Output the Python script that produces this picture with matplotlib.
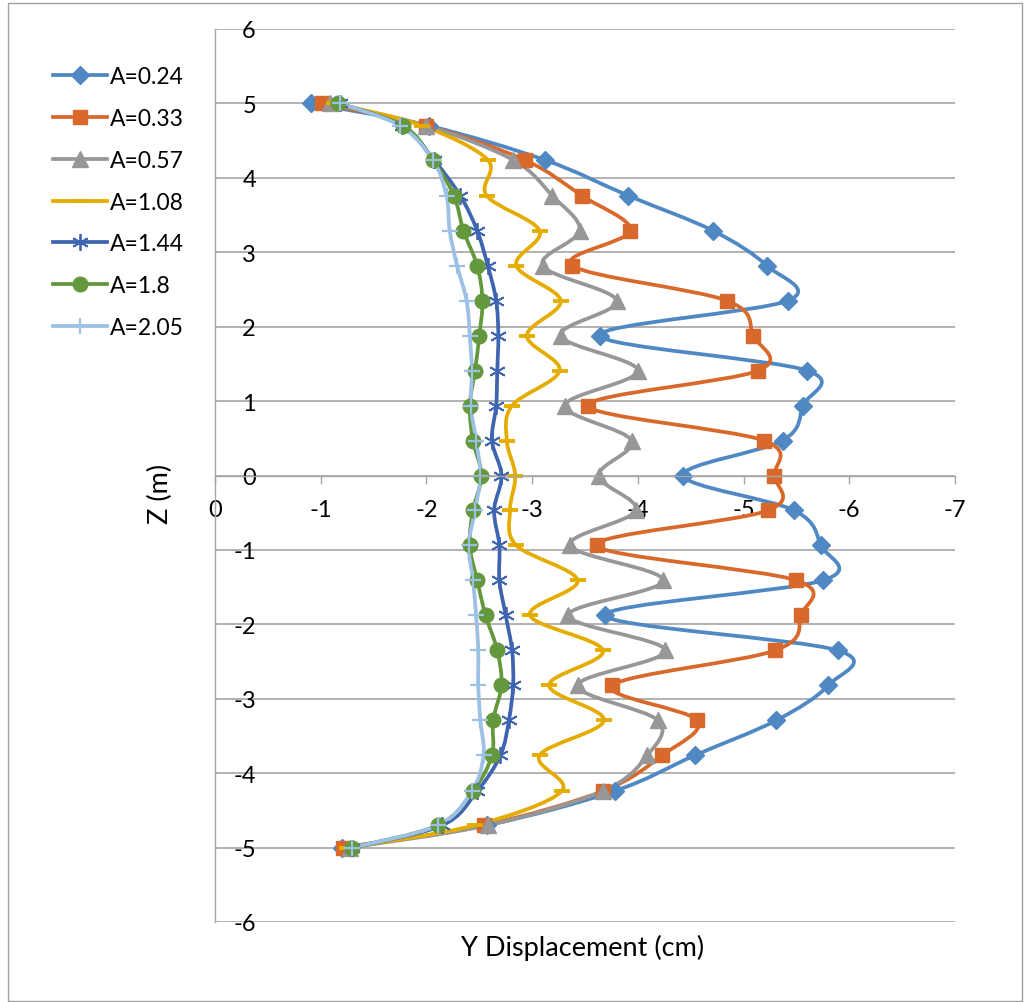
import numpy as np
import matplotlib
matplotlib.use("Agg")
import matplotlib.pyplot as plt
from matplotlib.path import Path
from matplotlib.patches import PathPatch, Rectangle
from matplotlib.lines import Line2D

plt.rcParams['font.family'] = ['Lato', 'DejaVu Sans']

z = [5, 4.7, 4.24, 3.76, 3.29, 2.82, 2.35, 1.88, 1.41, 0.94, 0.47, 0,
     -0.47, -0.94, -1.41, -1.88, -2.35, -2.82, -3.29, -3.76, -4.24, -4.7, -5]

a024 = [-0.91, -2.02, -3.12, -3.91, -4.71, -5.22, -5.42, -3.64, -5.60, -5.56, -5.37, -4.43,
        -5.48, -5.73, -5.75, -3.69, -5.89, -5.80, -5.31, -4.54, -3.78, -2.57, -1.20]
a033 = [-1.01, -2.00, -2.93, -3.47, -3.93, -3.38, -4.84, -5.09, -5.14, -3.53, -5.19, -5.29,
        -5.23, -3.61, -5.50, -5.54, -5.30, -3.76, -4.56, -4.23, -3.67, -2.54, -1.21]
a057 = [-1.09, -2.00, -2.82, -3.19, -3.45, -3.10, -3.80, -3.27, -4.00, -3.31, -3.94, -3.63,
        -3.98, -3.36, -4.24, -3.34, -4.26, -3.43, -4.19, -4.09, -3.67, -2.58, -1.28]
a108 = [-1.13, -1.96, -2.58, -2.57, -3.07, -2.85, -3.27, -2.95, -3.26, -2.81, -2.76, -2.84,
        -2.79, -2.85, -3.43, -2.98, -3.67, -3.16, -3.68, -3.07, -3.28, -2.46, -1.25]
a144 = [-1.18, -1.77, -2.07, -2.32, -2.48, -2.58, -2.66, -2.68, -2.67, -2.66, -2.62, -2.71,
        -2.64, -2.69, -2.69, -2.75, -2.81, -2.82, -2.78, -2.70, -2.48, -2.15, -1.30]
a180 = [-1.16, -1.78, -2.06, -2.26, -2.35, -2.48, -2.53, -2.50, -2.46, -2.41, -2.44, -2.52,
        -2.44, -2.41, -2.48, -2.56, -2.67, -2.71, -2.63, -2.62, -2.44, -2.11, -1.30]
a205 = [-1.18, -1.75, -2.06, -2.19, -2.22, -2.29, -2.38, -2.41, -2.43, -2.42, -2.47, -2.51,
        -2.46, -2.40, -2.44, -2.47, -2.49, -2.49, -2.51, -2.54, -2.43, -2.11, -1.30]

labels = ['A=0.24', 'A=0.33', 'A=0.57', 'A=1.08', 'A=1.44', 'A=1.8', 'A=2.05']
series = [a024, a033, a057, a108, a144, a180, a205]
colors = ['#4F88C2', '#D9692A', '#979797', '#E5AC00', '#3F65B0', '#64983C', '#9DC0E5']
markers = ['D', 's', '^', '_', (6, 2, 0), 'o', '+']
msizes = [9.5, 10.5, 11, 12, 12, 10.5, 11]
mews = [1, 1, 1, 2.8, 1.3, 1, 1.6]
x_ticks = [0, -1, -2, -3, -4, -5, -6, -7]
y_ticks = [-6, -5, -4, -3, -2, -1, 0, 1, 2, 3, 4, 5, 6]

W, H = 1024, 1003
fig = plt.figure(figsize=(W / 100, H / 100), dpi=100)
ax = fig.add_axes([215 / W, 1 - 923 / H, (955 - 215) / W, (923 - 30) / H])

fig.patches.append(Rectangle((8 / W, 1 / H), (1022 - 8) / W, (999 - 1) / H,
                             transform=fig.transFigure, fill=False,
                             edgecolor='#a0a0a0', linewidth=1))


def smooth_path(xs, ys):
    p = np.column_stack([xs, ys]).astype(float)
    n = len(p)
    verts = [p[0]]
    codes = [Path.MOVETO]
    for i in range(n - 1):
        p0 = p[i - 1] if i > 0 else p[i]
        p1 = p[i]
        p2 = p[i + 1]
        p3 = p[i + 2] if i + 2 < n else p[i + 1]
        c1 = p1 + (p2 - p0) / 6.0
        c2 = p2 - (p3 - p1) / 6.0
        verts += [c1, c2, p2]
        codes += [Path.CURVE4] * 3
    return Path(verts, codes)


LW = 2.7
handles = []
for vals, lab, col, mk, ms, mew in zip(series, labels, colors, markers, msizes, mews):
    patch = PathPatch(smooth_path(vals, z), facecolor='none', edgecolor=col,
                      linewidth=LW, capstyle='round', joinstyle='round')
    ax.add_patch(patch)
    ax.plot(vals, z, linestyle='none', marker=mk, markersize=ms, color=col,
            markeredgecolor=col, markeredgewidth=mew)
    handles.append(Line2D([], [], color=col, linewidth=LW, marker=mk,
                          markersize=ms, markeredgecolor=col, markeredgewidth=mew))

ax.set_xlim(0, -7)
ax.set_ylim(-6, 6)
ax.set_xticks(x_ticks)
ax.set_xticklabels([str(t) for t in x_ticks])
ax.set_yticks(y_ticks)
ax.set_yticklabels([str(t) for t in y_ticks])

for s in ['top', 'right']:
    ax.spines[s].set_visible(False)
ax.spines['bottom'].set_position(('data', 0))
ax.spines['bottom'].set_color('#a6a6a6')
ax.spines['left'].set_color('#a6a6a6')
ax.spines['bottom'].set_linewidth(1)
ax.spines['left'].set_linewidth(1)

ax.yaxis.grid(True, color='#a6a6a6', linewidth=1.2)
ax.set_axisbelow(True)
ax.tick_params(axis='x', direction='out', length=6, width=1, color='#a6a6a6',
               labelsize=17, pad=11, labelcolor='black')
ax.tick_params(axis='y', length=0, labelsize=17, pad=-29.5, labelcolor='black')

fig.text(583 / W, 1 - 948 / H, 'Y Displacement (cm)', fontsize=19.5,
         ha='center', va='center')
fig.text(160 / W, 1 - 494 / H, 'Z (m)', fontsize=19.5, rotation=90,
         ha='center', va='center')

fig.legend(handles, labels, loc='upper left', bbox_to_anchor=(53 / W, 1 - 67 / H),
           frameon=False, fontsize=16.5, numpoints=1, handlelength=2.35,
           handletextpad=0.13, labelspacing=0.91, borderpad=0, borderaxespad=0)

fig.savefig('out.png', dpi=100)
